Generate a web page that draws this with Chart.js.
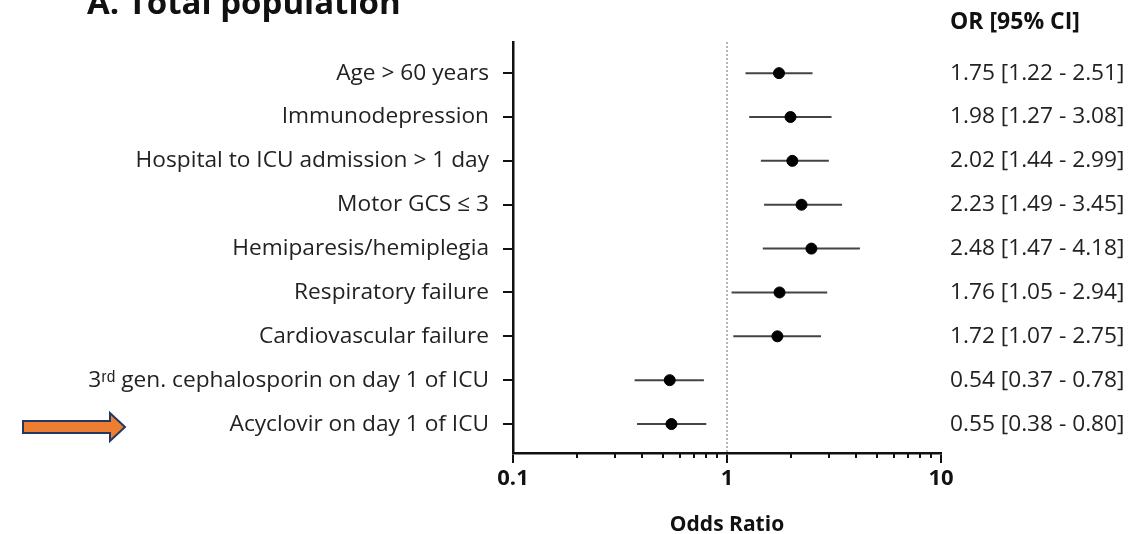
<!DOCTYPE html>
<html>
<head>
<meta charset="utf-8">
<script src="https://cdn.jsdelivr.net/npm/chart.js@4.4.0/dist/chart.umd.min.js"></script>
<style>
html, body { margin: 0; padding: 0; background: #fff; }
</style>
</head>
<body>
<canvas id="forest" width="1139" height="534"></canvas>
<script>
// rows, top to bottom
var labels = [
  "Age > 60 years",
  "Immunodepression",
  "Hospital to ICU admission > 1 day",
  "Motor GCS \u2264 3",
  "Hemiparesis/hemiplegia",
  "Respiratory failure",
  "Cardiovascular failure",
  "3\u02B3\u1D48 gen. cephalosporin on day 1 of ICU",
  "Acyclovir on day 1 of ICU"
];
var oddsRatio = [1.75, 1.98, 2.02, 2.23, 2.48, 1.76, 1.72, 0.54, 0.55];
var ciLow     = [1.22, 1.27, 1.44, 1.49, 1.47, 1.05, 1.07, 0.37, 0.38];
var ciHigh    = [2.51, 3.08, 2.99, 3.45, 4.18, 2.94, 2.75, 0.78, 0.80];
var xTicks = [0.1, 1, 10];
var xMinorTicks = [0.2, 0.3, 0.4, 0.5, 0.6, 0.7, 0.8, 0.9, 2, 3, 4, 5, 6, 7, 8, 9];

var FONT = "'Open Sans', sans-serif";
var Y_MIN = 0.29, Y_MAX = 9.66;

function orText(i) {
  return oddsRatio[i].toFixed(2) + " [" + ciLow[i].toFixed(2) + " - " + ciHigh[i].toFixed(2) + "]";
}

function rowTicks(scale) {
  scale.ticks = labels.map(function (l, i) { return { value: i + 1 }; });
}

var datasets = [];

// reference line at OR = 1
datasets.push({
  data: [{ x: 1, y: Y_MIN }, { x: 1, y: Y_MAX }],
  showLine: true,
  borderColor: "#9a9a9a",
  borderWidth: 1.5,
  borderDash: [2, 2],
  pointRadius: 0,
  order: 3
});

// confidence intervals
labels.forEach(function (l, i) {
  datasets.push({
    data: [{ x: ciLow[i], y: i + 1 }, { x: ciHigh[i], y: i + 1 }],
    showLine: true,
    borderColor: "#444",
    borderWidth: 2,
    pointRadius: 0,
    order: 2
  });
});

// point estimates
datasets.push({
  data: oddsRatio.map(function (v, i) { return { x: v, y: i + 1 }; }),
  pointRadius: 5.5,
  pointBackgroundColor: "#000",
  pointBorderColor: "#000",
  order: 1
});

var extras = {
  id: "extras",
  afterDraw: function (chart) {
    var ctx = chart.ctx;
    var xs = chart.scales.x;
    ctx.save();

    // minor log ticks
    ctx.strokeStyle = "#111";
    ctx.lineWidth = 2;
    ctx.beginPath();
    xMinorTicks.forEach(function (v) {
      var px = Math.round(xs.getPixelForValue(v));
      ctx.moveTo(px, xs.top);
      ctx.lineTo(px, xs.top + 5);
    });
    ctx.stroke();

    // panel title (cut by the top edge)
    ctx.fillStyle = "#111";
    ctx.font = "bold 33px " + FONT;
    ctx.textAlign = "left";
    ctx.textBaseline = "alphabetic";
    ctx.fillText("A. Total population", 87, 14);

    // column header
    ctx.font = "bold 23px " + FONT;
    ctx.fillText("OR [95% CI]", 950, 29);

    // orange arrow
    ctx.fillStyle = "#ED7D31";
    ctx.strokeStyle = "#1F3864";
    ctx.lineWidth = 2;
    ctx.beginPath();
    ctx.moveTo(23, 421);
    ctx.lineTo(110, 421);
    ctx.lineTo(110, 413);
    ctx.lineTo(125, 427);
    ctx.lineTo(110, 441);
    ctx.lineTo(110, 433);
    ctx.lineTo(23, 433);
    ctx.closePath();
    ctx.fill();
    ctx.stroke();
    ctx.restore();
  }
};

new Chart(document.getElementById("forest"), {
  type: "scatter",
  data: { datasets: datasets },
  plugins: [extras],
  options: {
    responsive: false,
    animation: false,
    devicePixelRatio: 1,
    layout: { padding: { top: 42, left: 0, right: 0, bottom: 0 } },
    plugins: { legend: { display: false }, tooltip: { enabled: false } },
    scales: {
      x: {
        type: "logarithmic",
        position: "bottom",
        min: 0.1,
        max: 10,
        afterBuildTicks: function (s) {
          s.ticks = xTicks.map(function (v) { return { value: v }; });
        },
        afterFit: function (s) { s.height = 81; },
        ticks: {
          font: { family: FONT, size: 22, weight: "bold" },
          color: "#111",
          padding: 3,
          maxRotation: 0,
          callback: function (v) { return String(v); }
        },
        grid: { drawOnChartArea: false, tickLength: 10, color: "#111", lineWidth: 2 },
        border: { color: "#111", width: 2.5 },
        title: {
          display: true,
          text: "Odds Ratio",
          color: "#111",
          font: { family: FONT, size: 21, weight: "bold", lineHeight: 0.85 },
          padding: { top: 0, bottom: 0 }
        }
      },
      y: {
        type: "linear",
        position: "left",
        reverse: true,
        min: Y_MIN,
        max: Y_MAX,
        afterBuildTicks: rowTicks,
        afterFit: function (s) { s.width = 513; },
        ticks: {
          font: { family: FONT, size: 22.7 },
          color: "#222",
          padding: 14,
          callback: function (v) { return labels[v - 1]; }
        },
        grid: { drawOnChartArea: false, tickLength: 10, color: "#111", lineWidth: 2 },
        border: { color: "#111", width: 2.5 }
      },
      y2: {
        type: "linear",
        position: "right",
        reverse: true,
        min: Y_MIN,
        max: Y_MAX,
        afterBuildTicks: rowTicks,
        afterFit: function (s) { s.width = 198; },
        ticks: {
          font: { family: FONT, size: 22.7 },
          color: "#222",
          padding: 9,
          callback: function (v) { return orText(v - 1); }
        },
        grid: { display: false, drawTicks: false },
        border: { display: false }
      }
    }
  }
});
</script>
</body>
</html>
